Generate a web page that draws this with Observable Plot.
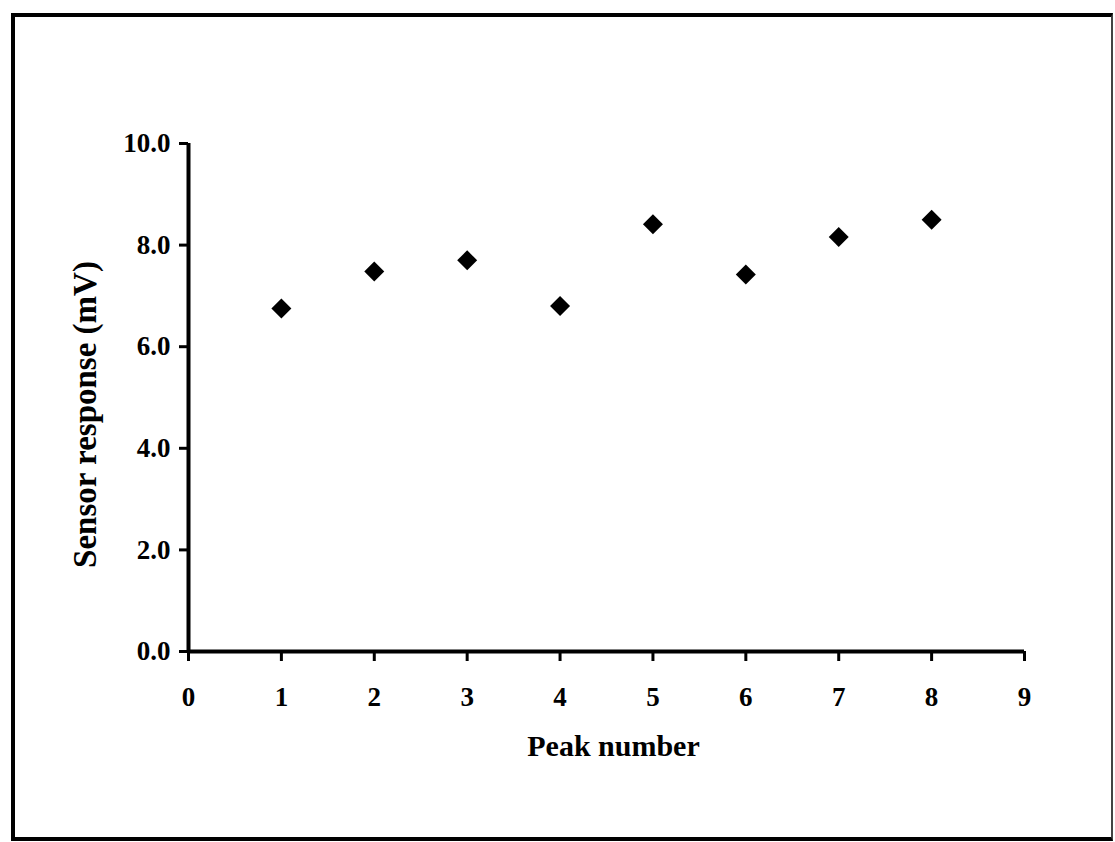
<!DOCTYPE html>
<html>
<head>
<meta charset="utf-8">
<script src="https://cdn.jsdelivr.net/npm/d3@7"></script>
<script src="https://cdn.jsdelivr.net/npm/@observablehq/plot@0.6"></script>
<style>
  html, body { margin: 0; padding: 0; background: #fff; }
  #page { position: relative; width: 1115px; height: 842px; overflow: hidden; }
  #border {
    position: absolute; left: 11px; top: 13px; width: 1096px; height: 820px;
    border-left: 4px solid #000; border-top: 4px solid #000;
    border-bottom: 4px solid #000; border-right: 2px solid #444;
  }
  #chart { position: absolute; left: 0; top: 0; }
</style>
</head>
<body>
<div id="page">
  <div id="border"></div>
  <div id="chart"></div>
</div>
<script>
// Sensor response for each peak
const peaks = [1, 2, 3, 4, 5, 6, 7, 8];
const responseMV = [6.75, 7.48, 7.70, 6.80, 8.41, 7.42, 8.16, 8.50];

// Axis ticks and titles
const xTicks = [0, 1, 2, 3, 4, 5, 6, 7, 8, 9];
const yTicks = [0, 2, 4, 6, 8, 10];
const xTitle = "Peak number";
const yTitle = "Sensor response (mV)";

const rows = peaks.map((p, i) => ({peak: p, mv: responseMV[i]}));

const chart = Plot.plot({
  width: 1115,
  height: 842,
  marginLeft: 188,
  marginRight: 91,
  marginTop: 143,
  marginBottom: 191,
  style: {
    fontFamily: "'Liberation Serif', 'Times New Roman', serif",
    fontWeight: "bold",
    color: "#000",
    background: "transparent",
    overflow: "visible"
  },
  x: {domain: [0, 9]},
  y: {domain: [0, 10]},
  marks: [
    Plot.axisX({
      ticks: xTicks, tickSize: 10, tickPadding: 25, fontSize: 27,
      strokeWidth: 3, label: null, tickFormat: d => String(d)
    }),
    Plot.axisY({
      ticks: yTicks, tickSize: 9, tickPadding: 9, fontSize: 27,
      strokeWidth: 3, label: null, tickFormat: d3.format(".1f")
    }),
    Plot.ruleY([0], {stroke: "#000", strokeWidth: 4}),
    Plot.ruleX([0], {stroke: "#000", strokeWidth: 4}),
    Plot.dot(rows, {x: "peak", y: "mv", symbol: "diamond2", r: 9, fill: "#000", stroke: null}),
    Plot.text([xTitle], {
      text: d => d, frameAnchor: "bottom", dx: 7, dy: 95, lineAnchor: "middle",
      fontSize: 30, fontWeight: "bold", fill: "#000"
    }),
    Plot.text([yTitle], {
      text: d => d, frameAnchor: "left", rotate: -90, dx: -103, dy: 17,
      textAnchor: "middle", lineAnchor: "middle",
      fontSize: 33, fontWeight: "bold", fill: "#000"
    })
  ]
});

document.getElementById("chart").appendChild(chart);
</script>
</body>
</html>
